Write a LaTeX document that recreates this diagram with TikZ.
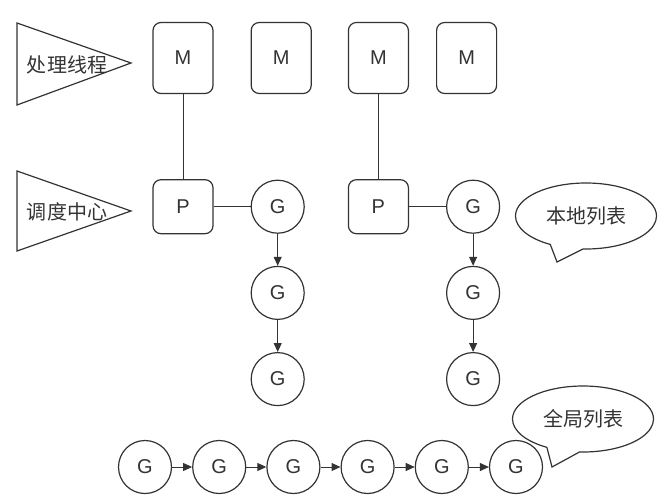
\documentclass[tikz,border=0pt]{standalone}
\usepackage{fontspec}
\setmainfont{Liberation Sans}
\newfontfamily\cjk{Noto Sans CJK SC}
\usetikzlibrary{arrows.meta,positioning,shapes.callouts}
\definecolor{GoInk}{HTML}{333333}

\begin{document}
\begin{tikzpicture}[x=1pt,y=1pt,>={Triangle[length=9pt,width=8pt]},
  mbox/.style={draw=GoInk,line width=1.2pt,rounded corners=8pt,minimum width=60pt,minimum height=71pt,inner sep=0pt,text=GoInk,font=\fontsize{20}{20}\selectfont},
  pbox/.style={mbox,minimum height=54pt},
  gnode/.style={draw=GoInk,line width=1.2pt,circle,minimum size=53pt,inner sep=0pt,text=GoInk,font=\fontsize{20}{20}\selectfont},
  tag/.style={text=GoInk,font=\cjk\fontsize{20}{20}\selectfont},
  bubble/.style={ellipse callout,draw=GoInk,line width=1.2pt,minimum width=141pt,minimum height=66pt,inner sep=0pt,callout pointer arc=28,tag},
  link/.style={draw=GoInk,line width=1pt}]
\useasboundingbox (0,0) rectangle (663,499);
% the two labels on the left
\coordinate (t1a) at (17,476);
\coordinate (t1b) at (17,394);
\coordinate (t1c) at (131,436);
\coordinate (t2a) at (17,328);
\coordinate (t2b) at (17,248);
\coordinate (t2c) at (131,288);
\draw[GoInk,line width=1.2pt] (t1a) -- (t1c) -- (t1b) -- cycle;
\draw[GoInk,line width=1.2pt] (t2a) -- (t2c) -- (t2b) -- cycle;
\node[tag] (lt1) at (67,434) {处理线程};
\node[tag] (lt2) at (67,287) {调度中心};
% threads and processors
\node[mbox] (m1) at (183,441) {M};
\node[mbox,right=37pt of m1] (m2) {M};
\node[mbox,right=36pt of m2] (m3) {M};
\node[mbox,right=27pt of m3] (m4) {M};
\node[pbox,below=85pt of m1] (p1) {P};
\node[pbox,below=85pt of m3] (p2) {P};
% local queues
\node[gnode,right=37pt of p1] (g1) {G};
\node[gnode,below=32pt of g1] (g2) {G};
\node[gnode,below=32pt of g2] (g3) {G};
\node[gnode,right=37pt of p2] (g4) {G};
\node[gnode,below=32pt of g4] (g5) {G};
\node[gnode,below=32pt of g5] (g6) {G};
% global queue
\node[gnode] (b1) at (145,32) {G};
\node[gnode,right=20pt of b1] (b2) {G};
\node[gnode,right=20pt of b2] (b3) {G};
\node[gnode,right=20pt of b3] (b4) {G};
\node[gnode,right=20pt of b4] (b5) {G};
\node[gnode,right=20pt of b5] (b6) {G};
% callouts
\coordinate (lp) at (557,237);
\coordinate (gp) at (552,32);
\node[bubble,callout absolute pointer={(lp)}] (local) at (586,283) {本地列表};
\node[bubble,callout absolute pointer={(gp)}] (global) at (583,80) {全局列表};
\draw[link] (m1) -- (p1);
\draw[link] (m3) -- (p2);
\draw[link] (p1) -- (g1);
\draw[link] (p2) -- (g4);
\draw[link,->] (g1) -- (g2);
\draw[link,->] (g2) -- (g3);
\draw[link,->] (g4) -- (g5);
\draw[link,->] (g5) -- (g6);
\draw[link,->] (b1) -- (b2);
\draw[link,->] (b2) -- (b3);
\draw[link,->] (b3) -- (b4);
\draw[link,->] (b4) -- (b5);
\draw[link,->] (b5) -- (b6);
\end{tikzpicture}
\end{document}
